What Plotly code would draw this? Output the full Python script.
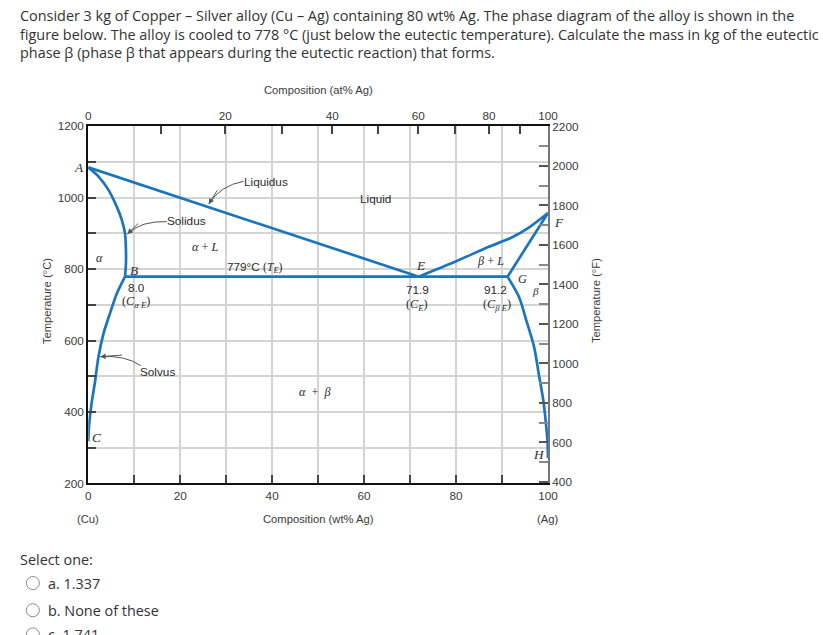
import plotly.graph_objects as go

W, H = 823, 635

# ---------------- data (wt% Ag, temperature in deg C) ----------------
liq_alpha_wt = [0.0, 71.9]
liq_alpha_T = [1085, 779]

liq_beta_wt = [71.9, 80.0, 87.0, 92.0, 96.0, 100.0]
liq_beta_T = [779, 822, 862, 888, 918, 957]

sol_alpha_wt = [0.0, 2.2, 4.4, 6.2, 7.3, 8.0, 8.2, 8.2, 8.0]
sol_alpha_T = [1085, 1060, 1022, 975, 938, 900, 853, 816, 779]

solvus_alpha_wt = [8.0, 6.2, 4.7, 3.3, 2.2, 1.5, 0.7, 0.2, 0.0]
solvus_alpha_T = [779, 731, 675, 619, 553, 487, 422, 365, 318]

eutectic_wt = [8.0, 71.9, 91.2]
eutectic_T = [779, 779, 779]

sol_beta_wt = [91.2, 100.0]
sol_beta_T = [779, 957]

solvus_beta_wt = [91.2, 93.7, 95.3, 97.0, 98.0, 99.0, 99.65, 99.9, 100.0]
solvus_beta_T = [779, 722, 656, 581, 506, 431, 356, 318, 271]

# axis ticks
wt_major = [0, 20, 40, 60, 80, 100]
wt_minor = [10, 30, 50, 70, 90]
at_major = [0, 20, 40, 60, 80, 100]
at_minor = [10, 30, 50, 70, 90]
C_major = [200, 400, 600, 800, 1000, 1200]
C_minor = [300, 500, 700, 900, 1100]
F_major = [400, 600, 800, 1000, 1200, 1400, 1600, 1800, 2000, 2200]
F_minor = [500, 700, 900, 1100, 1300, 1500, 1700, 1900, 2100]

M_AG, M_CU = 107.87, 63.55


def at_to_wt(a):
    return 100.0 * a * M_AG / (a * M_AG + (100 - a) * M_CU)


# the page is shown slightly scaled; map wanted page pixels to figure pixels
SX, OX = 0.9826, 3.2
SY, OY = 0.9735, 8.45
FS = 1.0 / ((SX + SY) / 2)


def fx(x):
    return (x - OX) / SX


def fy(y):
    return (y - OY) / SY


BLUE = "#1c75bc"
SANS = "Liberation Sans"
SERIF = "Liberation Serif"
TXT = "#2b2b2b"
GRID = "#d4d4d4"

fig = go.Figure()


def curve(xs, ys, shape="linear"):
    fig.add_trace(go.Scatter(x=xs, y=ys, mode="lines", showlegend=False,
                             hoverinfo="skip",
                             line=dict(color=BLUE, width=2.7, shape=shape,
                                       smoothing=0.8)))


curve(liq_alpha_wt, liq_alpha_T)
curve(liq_beta_wt, liq_beta_T, "spline")
curve(sol_alpha_wt, sol_alpha_T, "spline")
curve(solvus_alpha_wt, solvus_alpha_T, "spline")
curve(eutectic_wt, eutectic_T)
curve(sol_beta_wt, sol_beta_T)
curve(solvus_beta_wt, solvus_beta_T, "spline")

# invisible traces to anchor secondary axes
fig.add_trace(go.Scatter(x=[0, 100], y=[1200, 1200], xaxis="x2", yaxis="y",
                         mode="lines", line=dict(width=0), showlegend=False,
                         hoverinfo="skip"))
fig.add_trace(go.Scatter(x=[0, 100], y=[400, 400], xaxis="x", yaxis="y2",
                         mode="lines", line=dict(width=0), showlegend=False,
                         hoverinfo="skip"))

x0d, x1d = fx(88.3) / W, fx(547.3) / W
y0d, y1d = 1 - fy(482) / H, 1 - fy(127) / H
tickfont = dict(family=SANS, size=11.5 * FS, color="#3a3a3a")


def minor(vals, grid=True, color="#444", ln=8):
    return dict(tickmode="array", tickvals=vals, ticks="inside", ticklen=ln,
                tickcolor=color, tickwidth=1.5, showgrid=grid,
                gridcolor=GRID, gridwidth=1.5)


fig.update_layout(
    width=W, height=H, margin=dict(l=0, r=0, t=0, b=0),
    paper_bgcolor="white", plot_bgcolor="white",
    xaxis=dict(domain=[x0d, x1d], range=[0, 100], tickmode="array",
               tickvals=wt_major, showgrid=True, gridcolor=GRID, gridwidth=1.5,
               ticks="inside", ticklen=8, tickcolor="#444", tickwidth=1.5,
               minor=minor(wt_minor),
               showline=True, linecolor="#111", linewidth=2, zeroline=False,
               tickfont=tickfont, fixedrange=True),
    xaxis2=dict(overlaying="x", side="top", range=[0, 100], tickmode="array",
                tickvals=[at_to_wt(a) for a in at_major],
                ticktext=[str(a) for a in at_major],
                minor=minor([at_to_wt(a) for a in at_minor], grid=False),
                showgrid=False, ticks="inside", ticklen=8, tickcolor="#444",
                tickwidth=1.5, showline=True, linecolor="#111", linewidth=2,
                zeroline=False, tickfont=tickfont, fixedrange=True),
    yaxis=dict(domain=[y0d, y1d], range=[200, 1200], tickmode="array",
               tickvals=C_major, showgrid=True, gridcolor=GRID, gridwidth=1.5,
               ticks="inside", ticklen=8, tickcolor="#444", tickwidth=1.5,
               minor=minor(C_minor),
               showline=True, linecolor="#111", linewidth=2, zeroline=False,
               tickfont=tickfont, fixedrange=True),
    yaxis2=dict(overlaying="y", side="right", range=[392, 2201],
                tickmode="array", tickvals=F_major, showgrid=False,
                minor=minor(F_minor, grid=False, color="#888", ln=9),
                ticks="inside", ticklen=9, tickcolor="#555", tickwidth=1.5,
                showline=True, linecolor="#777", linewidth=2, zeroline=False,
                tickfont=tickfont, fixedrange=True),
)


def lab(x, y, text, size=11.5, family=SANS, xref="x", yref="y", **kw):
    kw.setdefault("xanchor", "center")
    kw.setdefault("yanchor", "middle")
    fig.add_annotation(x=x, y=y, xref=xref, yref=yref, text=text,
                       showarrow=False,
                       font=dict(family=family, size=size * FS,
                                 color=kw.pop("color", TXT)),
                       **kw)


def px(xp, yp, text, **kw):
    lab(fx(xp) / W, 1 - fy(yp) / H, text, xref="paper", yref="paper", **kw)


def it(s):
    return "<i>" + s + "</i>"


# ---------------- diagram labels ----------------
lab(0, 1086, it("A"), size=13, family=SERIF, xanchor="right", xshift=-2)
lab(38.7, 1045, "Liquidus")
lab(21.3, 935, "Solidus")
lab(62.5, 997, "Liquid")
lab(25.4, 862, it("α") + " + " + it("L"), size=12, family=SERIF)
lab(2.5, 831, it("α"), size=12, family=SERIF)
lab(36.3, 806, "779°C <span style='font-family:Liberation Serif'>(" + it("T") +
    "<sub>" + it("E") + "</sub>)</span>", size=11.5)
lab(10.0, 797, it("B"), size=13, family=SERIF)
lab(72.3, 811, it("E"), size=13, family=SERIF)
lab(87.5, 822, it("β") + " + " + it("L"), size=12, family=SERIF)
lab(94.5, 772, it("G"), size=12, family=SERIF)
lab(97.3, 738, it("β"), size=11, family=SERIF)
lab(100, 932, it("F"), size=13, family=SERIF, xshift=11)
lab(10.6, 749, "8.0", size=11.5)
lab(10.4, 707, "(" + it("C") + "<sub>" + it("α E") + "</sub>)", size=12,
    family=SERIF)
lab(71.6, 744, "71.9", size=11.5)
lab(71.6, 701, "(" + it("C") + "<sub>" + it("E") + "</sub>)", size=12,
    family=SERIF)
lab(88.6, 744, "91.2", size=11.5)
lab(89.0, 701, "(" + it("C") + "<sub>" + it("β E") + "</sub>)", size=12,
    family=SERIF)
lab(15.0, 513, "Solvus")
lab(49.4, 456, it("α") + "  +  " + it("β"), size=12, family=SERIF)
lab(1.9, 330, it("C"), size=13, family=SERIF)
lab(98.0, 282, it("H"), size=13, family=SERIF)

# curved leader arrows (label -> curve)
ARROW = "#555"
leaders = [
    # (start wt, start T, ctrl wt, ctrl T, end wt, end T)
    (33.8, 1046, 28.7, 1034, 26.2, 982),
    (17.1, 933, 11.5, 936, 8.5, 898),
    (11.4, 530, 8.0, 560, 2.6, 555),
]
for sx, sy, cx, cy, ex, ey in leaders:
    fig.add_shape(type="path", xref="x", yref="y",
                  path=f"M {sx},{sy} Q {cx},{cy} {ex},{ey}",
                  line=dict(color=ARROW, width=1))
    fig.add_annotation(x=ex, y=ey, xref="x", yref="y", ax=cx, ay=cy,
                       axref="x", ayref="y", text=" ", showarrow=True,
                       arrowhead=2, arrowsize=1.1, arrowwidth=1,
                       arrowcolor=ARROW, standoff=0, startstandoff=0)

# axis titles
atf = dict(size=11, color="#3a3a3a")
px(317.8, 91, "Composition (at% Ag)", **atf)
px(317.8, 517, "Composition (wt% Ag)", **atf)
px(88.3, 517, "(Cu)", **atf)
px(547.3, 517, "(Ag)", **atf)
px(47, 300, "Temperature (°C)", textangle=-90, **atf)
px(596, 300, "Temperature (°F)", textangle=-90, **atf)

# ---------------- question text ----------------
QF = "Open Sans"
QC = "#333333"
QS = 14.1
q_lines = [
    "Consider 3 kg of Copper – Silver alloy (Cu – Ag) containing 80 wt% Ag. "
    "The phase diagram of the alloy is shown in the",
    "figure below. The alloy is cooled to 778 °C (just below the eutectic "
    "temperature). Calculate the mass in kg of the eutectic",
    "phase β (phase β that appears during the eutectic reaction) that forms.",
]
for i, line in enumerate(q_lines):
    px(18, 17 + 18.5 * i, line, family=QF, size=QS, color=QC, xanchor="left")

px(18, 558, "Select one:", family=QF, size=QS, color=QC, xanchor="left")
options = ["a. 1.337", "b. None of these", "c. 1.741"]
opt_y = [581, 608, 632]
for t, yy in zip(options, opt_y):
    px(46, yy, t, family=QF, size=QS, color=QC, xanchor="left")
    r = 6.5
    fig.add_shape(type="circle", xref="paper", yref="paper",
                  x0=fx(33 - r) / W, x1=fx(33 + r) / W,
                  y0=1 - fy(yy + r) / H, y1=1 - fy(yy - r) / H,
                  line=dict(color="#8a8a8a", width=1), fillcolor="white")

fig.write_html("out.html")
